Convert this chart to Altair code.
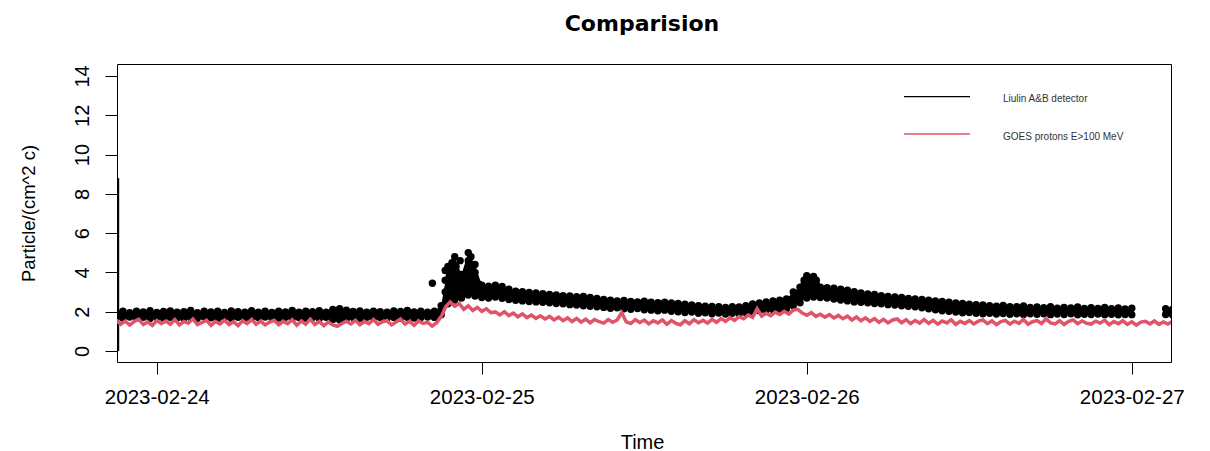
import altair as alt
import pandas as pd

# ---------------- data ----------------
# Liulin A&B detector: upper and lower edge of the point cloud, every 30 min from 2023-02-23 21:00
black_start = "2023-02-23 21:00:00"
black_hi = [
    1.98, 2.03, 1.95, 2.02, 1.99, 2.05, 1.96, 2.01,
    2.04, 1.97, 2.00, 2.06, 1.95, 2.02, 1.99, 2.03,
    1.96, 2.04, 2.00, 1.97, 2.05, 1.98, 2.02, 1.96,
    2.03, 1.99, 2.06, 1.97, 2.02, 2.00, 2.05, 1.98,
    2.12, 2.15, 2.08, 2.01, 2.04, 1.97, 2.03, 2.00,
    1.98, 2.04, 2.01, 2.06, 1.99, 2.02, 1.97, 2.03,
    2.30, 4.30, 4.80, 3.90, 5.00, 4.40, 3.35, 3.30,
    3.35, 3.28, 3.15, 3.05, 3.02, 2.98, 2.95, 2.92,
    2.88, 2.85, 2.82, 2.80, 2.76, 2.78, 2.72, 2.68,
    2.62, 2.58, 2.55, 2.57, 2.52, 2.50, 2.53, 2.48,
    2.46, 2.49, 2.44, 2.42, 2.38, 2.35, 2.30, 2.28,
    2.27, 2.25, 2.22, 2.26, 2.24, 2.30, 2.40, 2.45,
    2.50, 2.55, 2.58, 2.65, 3.00, 3.25, 3.83, 3.80,
    3.25, 3.22, 3.20, 3.15, 3.10, 3.02, 2.95, 2.90,
    2.88, 2.82, 2.78, 2.75, 2.72, 2.68, 2.65, 2.62,
    2.58, 2.55, 2.52, 2.48, 2.45, 2.42, 2.38, 2.36,
    2.34, 2.30, 2.28, 2.32, 2.26, 2.25, 2.29, 2.22,
    2.24, 2.20, 2.26, 2.18, 2.22, 2.19, 2.24, 2.17,
    2.20, 2.16, 2.22, 2.15, 2.19, 2.14, 2.18, None,
    None, None, None, 2.15, 2.12,
]
black_lo = [
    1.70, 1.67, 1.73, 1.68, 1.72, 1.66, 1.71, 1.67,
    1.72, 1.68, 1.65, 1.71, 1.67, 1.73, 1.69, 1.66,
    1.71, 1.67, 1.72, 1.68, 1.65, 1.70, 1.73, 1.67,
    1.68, 1.72, 1.66, 1.71, 1.67, 1.70, 1.65, 1.72,
    1.60, 1.58, 1.64, 1.70, 1.67, 1.72, 1.68, 1.71,
    1.67, 1.71, 1.66, 1.72, 1.68, 1.70, 1.73, 1.71,
    1.85, 2.40, 2.60, 2.70, 2.85, 2.80, 2.72, 2.70,
    2.75, 2.68, 2.62, 2.58, 2.55, 2.52, 2.50, 2.48,
    2.45, 2.42, 2.40, 2.36, 2.34, 2.30, 2.28, 2.25,
    2.22, 2.18, 2.20, 2.15, 2.12, 2.16, 2.10, 2.08,
    2.05, 2.08, 2.02, 2.00, 1.96, 1.98, 1.92, 1.95,
    1.90, 1.93, 1.88, 1.92, 1.90, 1.95, 2.00, 2.05,
    2.08, 2.10, 2.12, 2.15, 2.30, 2.45, 2.70, 2.75,
    2.72, 2.70, 2.65, 2.60, 2.55, 2.50, 2.48, 2.45,
    2.42, 2.40, 2.36, 2.34, 2.30, 2.28, 2.25, 2.20,
    2.15, 2.10, 2.05, 2.02, 1.98, 1.95, 1.96, 1.92,
    1.90, 1.92, 1.88, 1.91, 1.87, 1.90, 1.86, 1.89,
    1.87, 1.90, 1.85, 1.88, 1.86, 1.89, 1.84, 1.87,
    1.86, 1.88, 1.85, 1.87, 1.84, 1.86, 1.85, None,
    None, None, None, 1.86, 1.84,
]
# scattered detector points inside the two flare bursts (hours after 2023-02-24 00:00)
extra_hours = [20.35,
               21.3, 21.3, 21.3, 21.6, 21.6, 21.6, 21.8, 21.8, 21.8, 21.8,
               22.1, 22.1, 22.1, 22.4, 22.4, 22.4, 22.7, 22.7,
               23.0, 23.0, 23.0, 23.0, 23.2, 23.2, 23.2, 23.2,
               23.5, 23.5, 23.5, 23.8, 23.8, 24.2,
               47.8, 47.8, 47.8, 48.2, 48.2, 48.7, 48.7, 48.7, 48.9]
extra_vals = [3.45,
              3.0, 3.6, 4.1, 2.9, 3.3, 3.8, 3.1, 3.5, 4.2, 4.5,
              3.2, 3.7, 4.3, 3.0, 3.4, 4.6, 3.3, 3.6,
              3.4, 3.8, 4.2, 4.6, 3.5, 4.0, 4.4, 4.8,
              3.2, 3.6, 4.0, 3.1, 3.4, 3.0,
              3.4, 3.6, 3.2, 3.5, 3.2, 3.4, 3.6, 3.1, 3.0]
# start-up spike of the detector
spike_time = ["2023-02-23T21:09:00"]
spike_low = [0.0]
spike_high = [8.8]

# GOES protons E>100 MeV, every 20 min from 2023-02-23 21:00
red_start = "2023-02-23 21:00:00"
red_vals = [
    1.58, 1.36, 1.52, 1.32, 1.50, 1.62, 1.35, 1.48, 1.30, 1.55, 1.40, 1.52,
    1.36, 1.60, 1.33, 1.50, 1.42, 1.63, 1.34, 1.45, 1.56, 1.31, 1.50, 1.38,
    1.57, 1.35, 1.49, 1.29, 1.54, 1.40, 1.61, 1.36, 1.52, 1.33, 1.47, 1.56,
    1.34, 1.51, 1.39, 1.59, 1.31, 1.53, 1.37, 1.62, 1.35, 1.50, 1.29, 1.47,
    1.33, 1.26, 1.40, 1.52, 1.38, 1.56, 1.34, 1.50, 1.39, 1.60, 1.36, 1.49,
    1.54, 1.33, 1.48, 1.63, 1.37, 1.51, 1.31, 1.53, 1.40, 1.46, 1.27, 1.44,
    1.75, 2.25, 2.50, 2.28, 2.42, 2.12, 2.30, 2.06, 2.22, 2.02, 2.15, 1.95,
    1.99, 1.84, 2.00, 1.80, 1.93, 1.74, 1.89, 1.70, 1.83, 1.66, 1.79, 1.63,
    1.76, 1.58, 1.72, 1.54, 1.68, 1.50, 1.66, 1.47, 1.62, 1.44, 1.60, 1.49,
    1.42, 1.60, 1.46, 1.58, 1.95, 1.48, 1.40, 1.59, 1.45, 1.57, 1.38, 1.54,
    1.43, 1.58, 1.36, 1.55, 1.41, 1.34, 1.54, 1.39, 1.59, 1.44, 1.56, 1.42,
    1.61, 1.46, 1.65, 1.51, 1.69, 1.56, 1.75, 1.64, 1.83, 1.71, 2.15, 1.78,
    1.92, 1.80, 1.98, 1.86, 2.02, 1.88, 2.08, 2.12, 1.93, 1.82, 1.95, 1.76,
    1.87, 1.72, 1.85, 1.68, 1.81, 1.64, 1.77, 1.58, 1.73, 1.54, 1.69, 1.51,
    1.65, 1.46, 1.61, 1.43, 1.58, 1.63, 1.44, 1.59, 1.40, 1.55, 1.42, 1.60,
    1.41, 1.56, 1.37, 1.53, 1.43, 1.59, 1.35, 1.51, 1.40, 1.55, 1.38, 1.52,
    1.58, 1.39, 1.53, 1.34, 1.50, 1.56, 1.37, 1.52, 1.41, 1.61, 1.36, 1.49,
    1.55, 1.40, 1.63, 1.43, 1.38, 1.54, 1.35, 1.51, 1.58, 1.39, 1.53, 1.41,
    1.37, 1.52, 1.42, 1.57, 1.34, 1.50, 1.39, 1.54, 1.36, 1.49, 1.32, 1.47,
    1.51, 1.38, 1.53, 1.35, 1.48, 1.37, 1.50,
]

x_tick_dates = [(2023, 2, 24), (2023, 2, 25), (2023, 2, 26), (2023, 2, 27)]
y_ticks = [0, 2, 4, 6, 8, 10, 12, 14]
title_text = "Comparision"
legend_labels = ["Liulin A&B detector", "GOES protons E>100 MeV"]
legend_colors = ["black", "#DF536B"]

# ---------------- tables ----------------
FMT = "%Y-%m-%dT%H:%M:%S"
bt = pd.date_range(black_start, periods=len(black_hi), freq="30min")
band = pd.DataFrame({"t": bt.strftime(FMT), "hi": black_hi, "lo": black_lo})
band["seg"] = (bt >= pd.Timestamp("2023-02-27 01:00")).astype(int)
band = band.dropna()

pts = pd.concat([
    band[["t", "hi"]].rename(columns={"hi": "v"}),
    band[["t", "lo"]].rename(columns={"lo": "v"}),
    pd.DataFrame({
        "t": (pd.Timestamp("2023-02-24") + pd.to_timedelta(extra_hours, unit="h")).strftime(FMT),
        "v": extra_vals,
    }),
])

rt = pd.date_range(red_start, periods=len(red_vals), freq="20min")
red = pd.DataFrame({"t": rt.strftime(FMT), "v": red_vals})

spike = pd.DataFrame({"t": spike_time, "lo": spike_low, "hi": spike_high})

# ---------------- scales / axes ----------------
FONT = "Liberation Sans"
x_scale = alt.Scale(
    domain=[alt.DateTime(year=2023, month=2, date=23, hours=21, minutes=3, seconds=40),
            alt.DateTime(year=2023, month=2, date=27, hours=2, minutes=53, seconds=40)],
    nice=False,
)
y_scale = alt.Scale(domain=[-0.56, 14.61], nice=False, zero=False)

x_axis = alt.Axis(
    values=[alt.DateTime(year=y, month=m, date=d) for (y, m, d) in x_tick_dates],
    format="%Y-%m-%d", grid=False, domain=False,
    tickSize=12, tickColor="black", tickWidth=1,
    labelFont=FONT, labelFontSize=20.5, labelColor="black", labelPadding=13,
    labelFlush=False, labelOverlap=False, labelBaseline="top",
    title="Time", titleFont=FONT, titleFontSize=20, titleFontWeight="normal",
    titleColor="black", titleX=525, titleY=80, titleBaseline="middle", titleAlign="center",
)
y_axis = alt.Axis(
    values=y_ticks, grid=False, domain=False,
    tickSize=12, tickColor="black", tickWidth=1,
    labelFont=FONT, labelFontSize=20, labelColor="black", labelAngle=270,
    labelAlign="center", labelBaseline="bottom", labelPadding=12.5,
    labelFlush=False, labelOverlap=False,
    title="Particle/(cm^2 c)", titleFont=FONT, titleFontSize=18.5, titleFontWeight="normal",
    titleColor="black", titleAngle=270, titleX=-89, titleY=149,
    titleBaseline="middle", titleAlign="center",
)

X = alt.X("t:T", scale=x_scale, axis=x_axis)

area = alt.Chart(band).mark_area(color="black", clip=True).encode(
    x=X, y=alt.Y("lo:Q", scale=y_scale, axis=y_axis), y2="hi:Q", detail="seg:N"
)
dots = alt.Chart(pts).mark_circle(color="black", size=55, opacity=1, clip=True).encode(
    x=X, y=alt.Y("v:Q", scale=y_scale, axis=y_axis)
)
spk = alt.Chart(spike).mark_rule(color="black", strokeWidth=2).encode(
    x=X, y=alt.Y("lo:Q", scale=y_scale, axis=y_axis), y2="hi:Q"
)
redline = alt.Chart(red).mark_line(color="#DF536B", strokeWidth=3.5, clip=True).encode(
    x=X, y=alt.Y("v:Q", scale=y_scale, axis=y_axis)
)

leg = []
for i, (lab, col) in enumerate(zip(legend_labels, legend_colors)):
    yy = 32.7 + i * 37.3
    leg.append(alt.Chart(spike).mark_rule(color=col, strokeWidth=1.3).encode(
        x=alt.value(787), x2=alt.value(853), y=alt.value(yy)))
    leg.append(alt.Chart(spike).mark_text(
        align="left", baseline="middle", font=FONT, fontSize=10, color="#333333").encode(
        x=alt.value(886), y=alt.value(yy + 2.5), text=alt.value(lab)))

chart = alt.layer(area, dots, spk, redline, *leg).properties(
    width=1054, height=298,
    autosize=alt.AutoSizeParams(type="none"),
    padding={"left": 109, "top": 56, "right": 25, "bottom": 90},
    background="white",
    title=alt.TitleParams(
        text=title_text, font="DejaVu Sans", fontSize=22, fontWeight="bold", color="black",
        anchor="middle", baseline="middle", offset=18, dx=-2,
    ),
).configure_view(stroke="black", strokeWidth=1)

chart.save("out.html", embed_options={"renderer": "svg", "actions": False})
